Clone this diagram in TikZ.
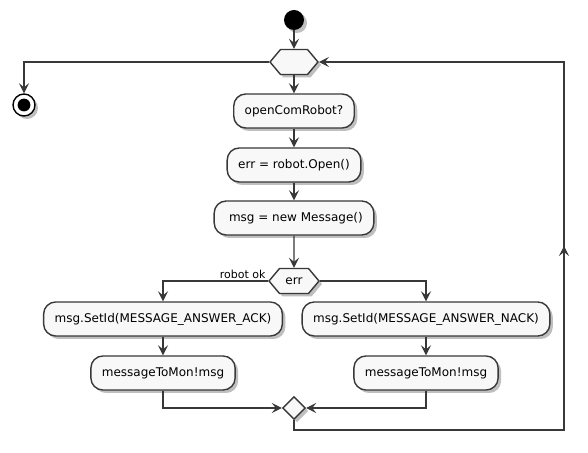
\documentclass[tikz,border=0pt]{standalone}
\usepackage{fontspec}
\setmainfont{DejaVu Sans}
\usetikzlibrary{arrows.meta,shapes.geometric,shapes.symbols,shadows}
\definecolor{boxfill}{HTML}{F8F8F8}
\definecolor{linecol}{HTML}{383838}
\tikzset{
  boxshadow/.style={drop shadow={shadow xshift=1.5pt,shadow yshift=-1.5pt,fill=black,opacity=0.25}},
  act/.style={draw=linecol,line width=0.7pt,fill=boxfill,rounded corners=6pt,
    minimum height=17pt,inner xsep=5.5pt,font=\fontsize{6}{7}\selectfont,boxshadow},
  test/.style={signal,signal to=west and east,signal pointer angle=100,draw=linecol,
    line width=0.7pt,fill=boxfill,minimum height=12.5pt,inner xsep=3pt,
    font=\fontsize{6}{7}\selectfont,boxshadow},
  mergebox/.style={diamond,draw=linecol,line width=0.7pt,fill=boxfill,minimum size=11.5pt,
    inner sep=0pt,boxshadow},
  startdot/.style={circle,fill=black,minimum size=10pt,inner sep=0pt,boxshadow},
  enddot/.style={circle,draw=black,line width=0.7pt,fill=white,minimum size=11pt,inner sep=0pt,
    path picture={\fill[black] (path picture bounding box.center) circle (3.2pt);},boxshadow},
  flow/.style={draw=linecol,line width=0.6pt,-{Stealth[length=5pt,width=5pt,inset=2pt]}}
}
\begin{document}
\begin{tikzpicture}[x=0.5pt,y=-0.5pt]
\useasboundingbox (0,0) rectangle (588,453);
\node[startdot] (start) at (294,20) {};
\node[test,minimum width=24pt] (loop) at (294,62) {};
\node[enddot] (stop) at (24,105) {};
\node[act] (open) at (294,111) {openComRobot?};
\node[act] (robopen) at (294,165) {err = robot.Open()};
\node[act] (newmsg) at (294,218) {\ msg = new Message()};
\node[test] (test) at (294,281) {err};
\node[act] (ack) at (163,319) {msg.SetId(MESSAGE\_ANSWER\_ACK)};
\node[act] (sendack) at (163,373) {messageToMon!msg};
\node[act] (nack) at (426,319) {msg.SetId(MESSAGE\_ANSWER\_NACK)};
\node[act] (sendnack) at (426,373) {messageToMon!msg};
\node[mergebox] (done) at (294,408) {};
\coordinate (back) at (564,430);
\draw[flow] (start) -- (loop);
\draw[flow] (loop.west) -| (stop);
\draw[flow] (loop) -- (open);
\draw[flow] (open) -- (robopen);
\draw[flow] (robopen) -- (newmsg);
\draw[flow] (newmsg) -- (test);
\draw[flow] (test.west) -| (ack) node[pos=0,above left,inner sep=1pt,
  font=\fontsize{5.5}{6}\selectfont] {robot ok};
\draw[flow] (test.east) -| (nack);
\draw[flow] (ack) -- (sendack);
\draw[flow] (nack) -- (sendnack);
\draw[flow] (sendack) |- (done);
\draw[flow] (sendnack) |- (done);
\draw[flow] (done) |- (back) -- ++(0,-184);
\draw[flow] (back) |- (loop.east);
\end{tikzpicture}
\end{document}
